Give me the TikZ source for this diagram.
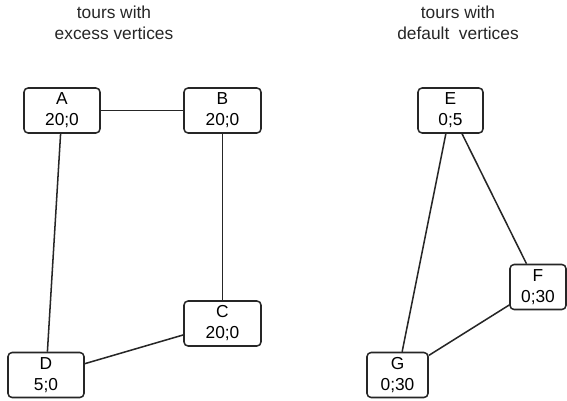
\documentclass[tikz,border=0pt]{standalone}
\usepackage{fontspec}
\setmainfont{Liberation Sans}
\usepackage{tikz}

\tikzset{vbox/.style={draw=black!85,line width=1.3pt,rounded corners=3.5pt,align=center,minimum height=1.35cm,inner sep=0pt,font=\fontsize{14.8}{17.9}\selectfont},
 tour/.style={black!85,line width=1.3pt},
 ttl/.style={align=center,font=\fontsize{14.8}{17.9}\selectfont,text=black!85}}

\begin{document}
\begin{tikzpicture}[x=0.03cm,y=-0.03cm]%[scale=1.0]
\useasboundingbox (0,0) rectangle (567,401);
\node[ttl] (t1) at (114,23) {tours with\\excess vertices};
\node[ttl] (t2) at (458,23) {tours with\\default~~vertices};
\node[vbox,minimum width=2.28cm] (A) at (62,110.5) {A\\20;0};
\node[vbox,minimum width=2.31cm] (B) at (222.5,110.5) {B\\20;0};
\node[vbox,minimum width=2.31cm] (C) at (222.5,323.5) {C\\20;0};
\node[vbox,minimum width=2.28cm] (D) at (46,375) {D\\5;0};
\node[vbox,minimum width=1.95cm] (E) at (450.5,110.5) {E\\0;5};
\node[vbox,minimum width=1.68cm] (F) at (538,287) {F\\0;30};
\node[vbox,minimum width=1.83cm] (G) at (397.5,375) {G\\0;30};
\draw[tour] (A) -- (B);\draw[tour] (B) -- (C);\draw[tour] (C) -- (D);\draw[tour] (D) -- (A);
\draw[tour] (E) -- (F);\draw[tour] (F) -- (G);\draw[tour] (G) -- (E);
\end{tikzpicture}
\end{document}
